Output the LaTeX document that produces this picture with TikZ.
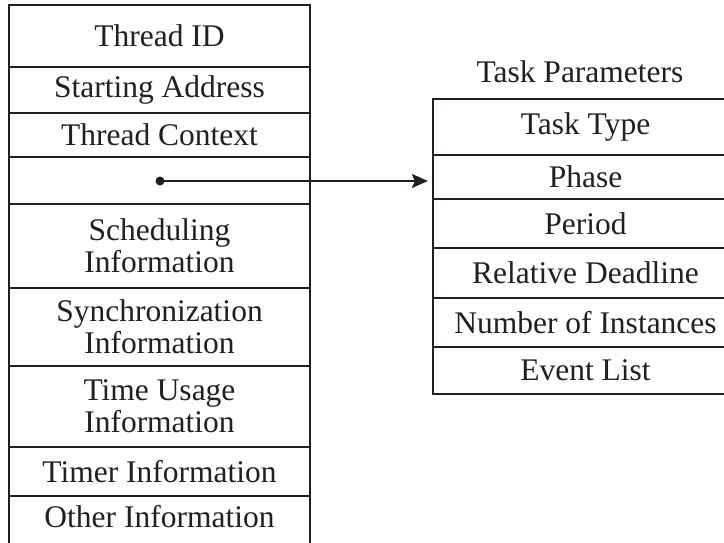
\documentclass[tikz,border=0pt]{standalone}
\usepackage{fontspec}
\setmainfont{Liberation Serif}
\usetikzlibrary{arrows.meta}
\definecolor{ink}{RGB}{35,31,32}
\begin{document}
\begin{tikzpicture}[x=1pt,y=-1pt,
  cellL/.style={draw=ink,line width=2.2pt,minimum width=301pt,inner sep=0pt,align=center,text=ink,
    font=\fontsize{31.5}{32}\selectfont},
  cellR/.style={cellL,minimum width=305pt},
  conn/.style={draw=ink,line width=2.2pt,-{Stealth[length=16pt,width=14pt,inset=3pt]}}]
\useasboundingbox (0,0) rectangle (724,542);
\clip (0,0) rectangle (724,542);
% left table
\node[cellL,minimum height=62pt] (tid)  at (159.5,36)  {Thread ID};
\node[cellL,minimum height=46pt] (sa)   at (159.5,90)  {Starting Address};
\node[cellL,minimum height=44pt] (tc)   at (159.5,135) {Thread Context};
\node[cellL,minimum height=47pt] (blank) at (159.5,180.5) {};
\node[cellL,minimum height=84pt] (sch)  at (159.5,246) {Scheduling\\Information};
\node[cellL,minimum height=78pt] (syn)  at (159.5,327) {Synchronization\\Information};
\node[cellL,minimum height=81pt] (tu)   at (159.5,406.5) {Time Usage\\Information};
\node[cellL,minimum height=49pt] (ti)   at (159.5,471.5) {Timer Information};
\node[cellL,minimum height=50pt] (oi)   at (159.5,521) {};
\node[text=ink,font=\fontsize{31.5}{32}\selectfont] (oit) at (159.5,517) {Other Information};
\draw[draw=ink,line width=2.2pt] (oi.south west) -- ++(0,30) (oi.south east) -- ++(0,30);
% right table
\node[text=ink,font=\fontsize{31.5}{32}\selectfont] (tp) at (580,72) {Task Parameters};
\node[cellR,minimum height=56pt] (tt)  at (585.5,127) {Task Type};
\node[cellR,minimum height=44pt] (ph)  at (585.5,177) {Phase};
\node[cellR,minimum height=49pt] (pe)  at (585.5,223.5) {Period};
\node[cellR,minimum height=50pt] (rd)  at (585.5,273) {Relative Deadline};
\node[cellR,minimum height=49pt] (ni)  at (585.5,322.5) {Number of Instances};
\node[cellR,minimum height=47pt] (el)  at (585.5,370.5) {Event List};
% pointer
\node[circle,fill=ink,inner sep=0pt,minimum size=9pt] (dot) at (160,181) {};
\draw[conn] (dot.center) -- ([xshift=-4pt]dot.center -| ph.west);
\end{tikzpicture}
\end{document}
